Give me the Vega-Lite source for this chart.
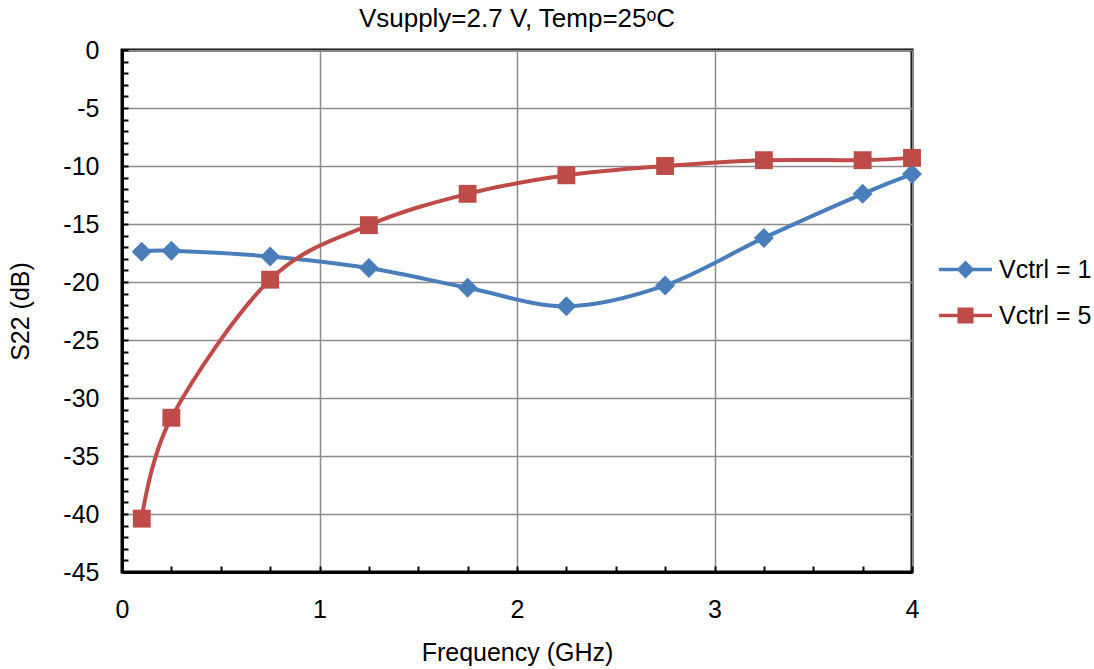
{
  "$schema": "https://vega.github.io/schema/vega-lite/v6.json",
  "autosize": {"type": "none"},
  "width": 790,
  "height": 522,
  "padding": {"left": 122, "top": 50, "right": 182, "bottom": 97},
  "background": "white",
  "title": {"text": "Vsupply=2.7 V, Temp=25ᵒC", "font": "Liberation Sans", "fontSize": 26, "fontWeight": "normal", "color": "black", "anchor": "middle", "offset": 6},
  "config": {
    "view": {"stroke": "black", "strokeWidth": 3},
    "axis": {"labelFont": "Liberation Sans", "titleFont": "Liberation Sans", "labelFontSize": 25, "titleFontSize": 25, "titleFontWeight": "normal", "labelColor": "black", "titleColor": "black", "domainColor": "black", "domainWidth": 3, "tickColor": "black", "tickWidth": 2, "tickSize": -6, "gridColor": "#8c8c8c", "gridWidth": 1.5, "labelOverlap": false, "labelFlush": false}
  },
  "data": {"values": [
    {"freq": 0.1, "s22": -17.4, "series": "Vctrl = 1"},
    {"freq": 0.25, "s22": -17.3, "series": "Vctrl = 1"},
    {"freq": 0.75, "s22": -17.8, "series": "Vctrl = 1"},
    {"freq": 1.25, "s22": -18.8, "series": "Vctrl = 1"},
    {"freq": 1.75, "s22": -20.5, "series": "Vctrl = 1"},
    {"freq": 2.25, "s22": -22.1, "series": "Vctrl = 1"},
    {"freq": 2.75, "s22": -20.3, "series": "Vctrl = 1"},
    {"freq": 3.25, "s22": -16.2, "series": "Vctrl = 1"},
    {"freq": 3.75, "s22": -12.4, "series": "Vctrl = 1"},
    {"freq": 4.0, "s22": -10.7, "series": "Vctrl = 1"},
    {"freq": 0.1, "s22": -40.4, "series": "Vctrl = 5"},
    {"freq": 0.25, "s22": -31.7, "series": "Vctrl = 5"},
    {"freq": 0.75, "s22": -19.8, "series": "Vctrl = 5"},
    {"freq": 1.25, "s22": -15.1, "series": "Vctrl = 5"},
    {"freq": 1.75, "s22": -12.4, "series": "Vctrl = 5"},
    {"freq": 2.25, "s22": -10.8, "series": "Vctrl = 5"},
    {"freq": 2.75, "s22": -10.0, "series": "Vctrl = 5"},
    {"freq": 3.25, "s22": -9.5, "series": "Vctrl = 5"},
    {"freq": 3.75, "s22": -9.5, "series": "Vctrl = 5"},
    {"freq": 4.0, "s22": -9.3, "series": "Vctrl = 5"}
  ]},
  "encoding": {
    "x": {"field": "freq", "type": "quantitative", "title": "Frequency (GHz)",
      "scale": {"domain": [0, 4], "nice": false},
      "axis": {"values": [0,0.25,0.5,0.75,1,1.25,1.5,1.75,2,2.25,2.5,2.75,3,3.25,3.5,3.75,4],
        "labelExpr": "datum.value % 1 === 0 ? '' + datum.value : ''",
        "gridOpacity": {"condition": {"test": "datum.value % 1 === 0", "value": 1}, "value": 0},
        "labelPadding": 31, "titlePadding": 18}},
    "y": {"field": "s22", "type": "quantitative", "title": "S22 (dB)",
      "scale": {"domain": [-45, 0], "nice": false},
      "axis": {"values": [-45,-44,-43,-42,-41,-40,-39,-38,-37,-36,-35,-34,-33,-32,-31,-30,-29,-28,-27,-26,-25,-24,-23,-22,-21,-20,-19,-18,-17,-16,-15,-14,-13,-12,-11,-10,-9,-8,-7,-6,-5,-4,-3,-2,-1,0],
        "labelExpr": "datum.value % 5 === 0 ? '' + datum.value : ''",
        "gridOpacity": {"condition": {"test": "datum.value % 5 === 0", "value": 1}, "value": 0},
        "labelPadding": 29, "titlePadding": 29}},
    "color": {"field": "series", "type": "nominal",
      "scale": {"domain": ["Vctrl = 1", "Vctrl = 5"], "range": ["#4a7ebb", "#be4b48"]},
      "legend": {"title": null, "orient": "none", "legendX": 831, "legendY": 207, "padding": 0,
        "labelFont": "Liberation Sans", "labelFontSize": 25, "labelColor": "black",
        "symbolSize": 400, "labelOffset": 21, "rowPadding": 20,
        "encode": {"symbols": {"update": {
          "shape": {"signal": "datum.value === 'Vctrl = 1' ? 'M-2.65,-0.18L2.65,-0.18L2.65,0.18L-2.65,0.18Z M-0.9,0L0,-0.9L0.9,0L0,0.9Z' : 'M-2.65,-0.18L2.65,-0.18L2.65,0.18L-2.65,0.18Z M-0.8,-0.8L0.8,-0.8L0.8,0.8L-0.8,0.8Z'"},
          "fill": {"signal": "datum.value === 'Vctrl = 1' ? '#4a7ebb' : '#be4b48'"},
          "fillOpacity": {"value": 1},
          "strokeWidth": {"value": 0}
        }}}}}
  },
  "layer": [
    {"mark": {"type": "line", "interpolate": "cardinal", "strokeWidth": 4}},
    {"transform": [{"filter": "datum.series === 'Vctrl = 1'"}],
     "mark": {"type": "point", "filled": true, "opacity": 1, "size": 400, "shape": "diamond"}},
    {"transform": [{"filter": "datum.series === 'Vctrl = 5'"}],
     "mark": {"type": "point", "filled": true, "opacity": 1, "size": 320, "shape": "square"}}
  ]
}
